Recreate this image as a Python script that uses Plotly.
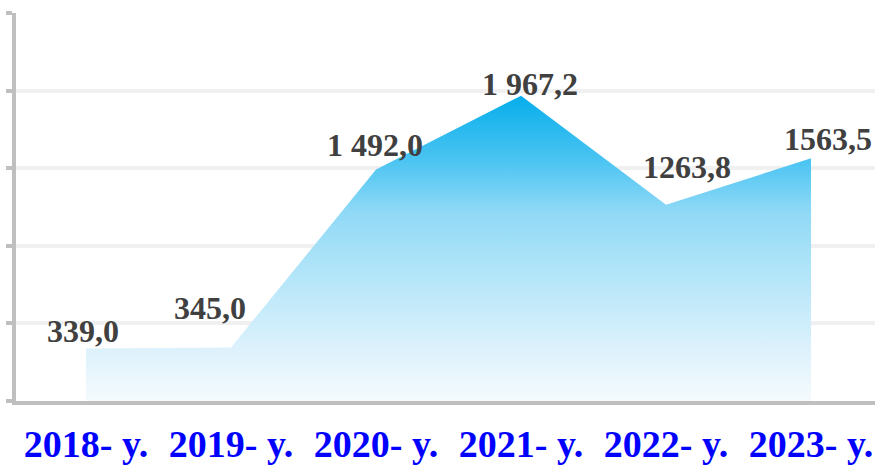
import plotly.graph_objects as go

categories = ["2018- y.", "2019- y.", "2020- y.", "2021- y.", "2022- y.", "2023- y."]
values = [339.0, 345.0, 1492.0, 1967.2, 1263.8, 1563.5]
value_labels = ["339,0", "345,0", "1 492,0", "1 967,2", "1263,8", "1563,5"]
label_shift_x = [-3, -21, -1, 9, 21, 17]
label_shift_y = [17, 39, 24, 12, 38, 19]

FONT = "Times New Roman, Liberation Serif, serif"

fig = go.Figure()
fig.add_trace(go.Scatter(
    x=categories, y=values, mode="lines", fill="tozeroy",
    line=dict(width=0, color="rgba(0,0,0,0)"),
    fillgradient=dict(
        type="vertical", start=0, stop=max(values),
        colorscale=[[0, "#f5fafd"], [0.18, "#dbf1fc"], [0.40, "#b5e6f9"],
                    [0.62, "#90d9f6"], [0.78, "#4ec5f2"], [1, "#06aeeb"]],
    ),
    hoverinfo="skip", showlegend=False,
))

for c, v, t, dx, dy in zip(categories, values, value_labels, label_shift_x, label_shift_y):
    fig.add_annotation(x=c, y=v, text=t, showarrow=False, xanchor="center", yanchor="middle",
                       xshift=dx, yshift=dy,
                       font=dict(family=FONT, size=32, color="#404040", weight="bold"))

fig.update_layout(
    width=875, height=466,
    margin=dict(l=16, r=0, t=13, b=65),
    paper_bgcolor="white", plot_bgcolor="white",
    xaxis=dict(type="category", range=[-0.483, 5.441], showgrid=False,
               showline=True, linecolor="#bfbfbf", linewidth=4,
               ticks="", tickfont=dict(family=FONT, size=38, color="#0000ff", weight="bold"),
               ticklabelstandoff=6, fixedrange=True),
    yaxis=dict(range=[0, 2500], tickvals=[0, 500, 1000, 1500, 2000, 2500],
               showticklabels=False, showgrid=True, gridcolor="#f0f0f0", gridwidth=4,
               showline=True, linecolor="#bfbfbf", linewidth=4,
               ticks="outside", ticklen=6, tickwidth=4, tickcolor="#bfbfbf",
               zeroline=False, fixedrange=True),
)

fig.write_html("out.html", config={"displayModeBar": False},
               post_script="document.body.style.margin='0px';document.body.style.overflow='hidden';")
